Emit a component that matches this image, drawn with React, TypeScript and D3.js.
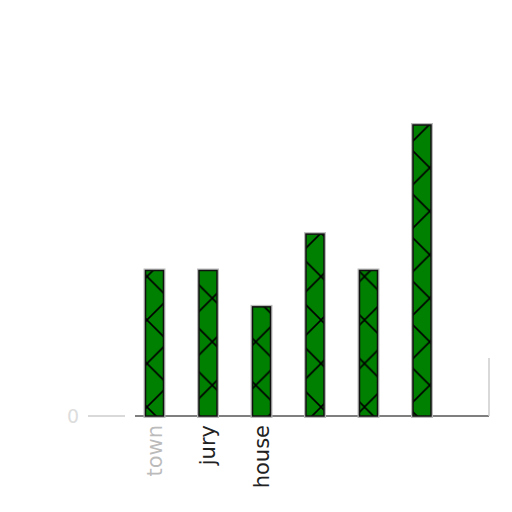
import React from "react";
import * as d3 from "d3";

const categories = ["town", "jury", "house", "cat4", "cat5", "cat6"];
const values = [4, 4, 3, 5, 4, 8];
const tickLabels = ["town", "jury", "house", "", "", ""];
const labelOpacity = [0.3, 1, 1, 0, 0, 0];
const yTicks = [0];

const W = 512;
const H = 512;
const baseY = 416;
const hatch = 43.5;

export default function App() {
  const x = d3
    .scaleBand<string>()
    .domain(categories)
    .range([127.75, 448.75])
    .paddingInner(0.664)
    .paddingOuter(0.332);
  const y = d3.scaleLinear().domain([0, 8]).range([baseY, 125]);

  return (
    <svg
      width={W}
      height={H}
      style={{ position: "fixed", left: 0, top: 0, background: "#fff" }}
      fontFamily="DejaVu Sans"
    >
      <defs>
        <pattern
          id="xhatch"
          patternUnits="userSpaceOnUse"
          x={147}
          y={320}
          width={hatch}
          height={hatch}
        >
          <path
            d={`M0,0L${hatch},${hatch}M0,${hatch}L${hatch},0`}
            stroke="#000"
            strokeWidth={1.6}
            fill="none"
          />
        </pattern>
      </defs>
      <line x1={88} x2={125} y1={baseY} y2={baseY} stroke="#ccc" strokeWidth={1.5} />
      <line x1={135} x2={489} y1={baseY} y2={baseY} stroke="#555" strokeWidth={1.5} />
      <line x1={489} x2={489} y1={358} y2={baseY} stroke="#ccc" strokeWidth={1.5} />
      {yTicks.map((t) => (
        <text
          key={t}
          x={73}
          y={y(t)}
          dy="0.35em"
          textAnchor="middle"
          fontSize={19}
          fill="#ddd"
        >
          {t}
        </text>
      ))}
      {categories.map((c, i) => {
        const bx = x(c)!;
        const bw = x.bandwidth();
        const top = y(values[i]);
        return (
          <g key={c}>
            <rect
              x={bx}
              y={top}
              width={bw}
              height={baseY - top}
              fill="none"
              stroke="#bbb"
              strokeWidth={4}
            />
            <rect x={bx} y={top} width={bw} height={baseY - top} fill="#008000" />
            <rect x={bx} y={top} width={bw} height={baseY - top} fill="url(#xhatch)" />
            <rect
              x={bx}
              y={top}
              width={bw}
              height={baseY - top}
              fill="none"
              stroke="#111"
              strokeWidth={1.5}
            />
          </g>
        );
      })}
      {categories.map((c, i) =>
        tickLabels[i] ? (
          <text
            key={"l" + c}
            transform={`translate(${x(c)! + x.bandwidth() / 2},${baseY + 9}) rotate(-90)`}
            textAnchor="end"
            dy="0.35em"
            fontSize={21}
            fill="#222"
            opacity={labelOpacity[i]}
          >
            {tickLabels[i]}
          </text>
        ) : null
      )}
    </svg>
  );
}
